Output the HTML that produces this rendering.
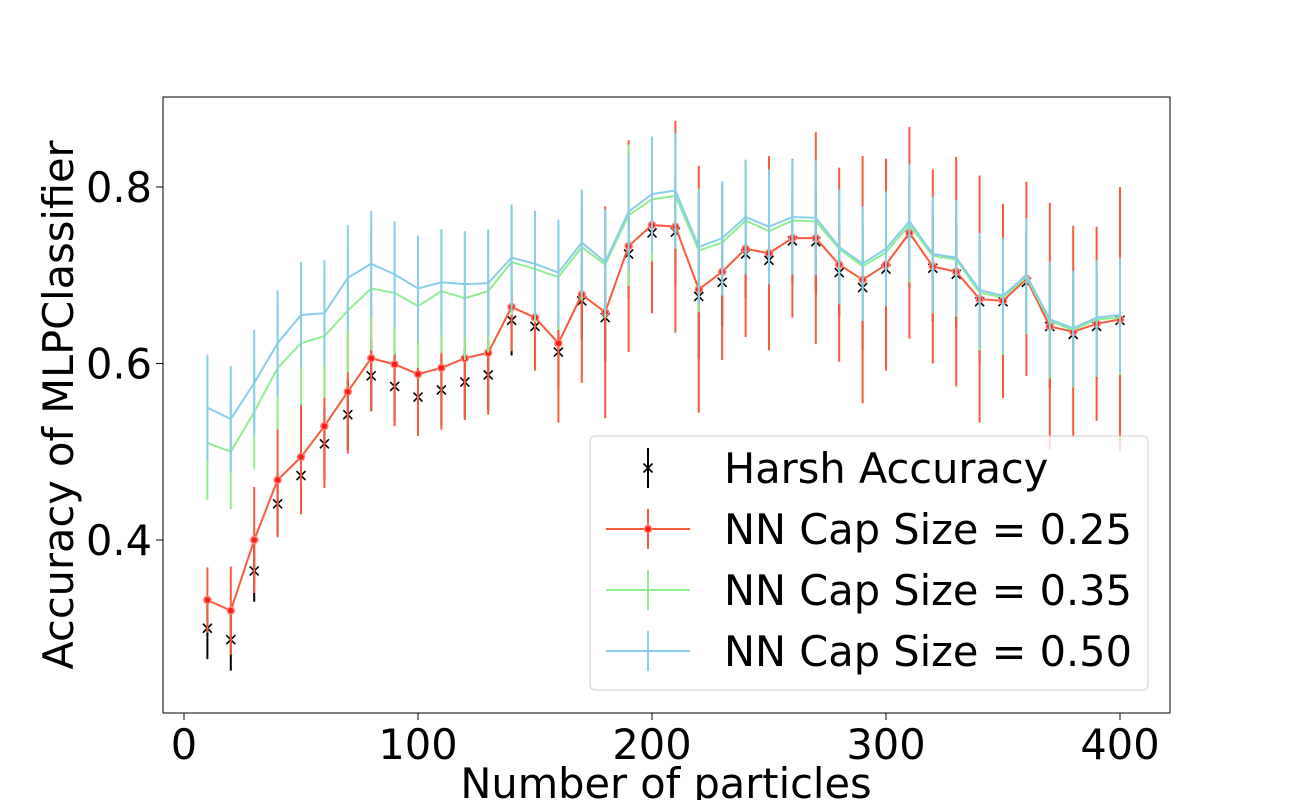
<!DOCTYPE html>
<html><head><meta charset="utf-8"><style>
body{margin:0;background:#fff;}
svg text{font-family:"DejaVu Sans","Liberation Sans",sans-serif;fill:#000;}
</style></head><body>
<svg id="c" width="1300" height="800"></svg>
<script>
const xs=[10,20,30,40,50,60,70,80,90,100,110,120,130,140,150,160,170,180,190,200,210,220,230,240,250,260,270,280,290,300,310,320,330,340,350,360,370,380,390,400];
const harsh=[0.300,0.287,0.365,0.441,0.473,0.509,0.542,0.586,0.574,0.562,0.570,0.579,0.587,0.649,0.642,0.613,0.671,0.652,0.724,0.748,0.749,0.676,0.692,0.724,0.717,0.739,0.738,0.703,0.686,0.707,0.746,0.708,0.701,0.670,0.670,0.692,0.642,0.633,0.642,0.649];
const harshErr=[0.035,0.035,0.035,0.035,0.04,0.04,0.04,0.04,0.04,0.04,0.04,0.04,0.04,0.04,0.04,0.04,0.045,0.05,0.05,0.05,0.06,0.07,0.05,0.05,0.05,0.05,0.06,0.05,0.07,0.06,0.06,0.06,0.06,0.07,0.06,0.06,0.07,0.06,0.06,0.07];
const cap25=[0.332,0.320,0.400,0.468,0.494,0.529,0.568,0.606,0.599,0.588,0.595,0.606,0.612,0.664,0.652,0.623,0.678,0.658,0.733,0.757,0.755,0.684,0.704,0.730,0.725,0.742,0.742,0.712,0.695,0.712,0.748,0.710,0.704,0.673,0.671,0.696,0.642,0.636,0.645,0.650];
const err25=[0.037,0.05,0.06,0.065,0.065,0.07,0.07,0.06,0.07,0.07,0.07,0.07,0.07,0.05,0.06,0.09,0.1,0.12,0.12,0.1,0.12,0.14,0.1,0.1,0.11,0.09,0.12,0.11,0.14,0.12,0.12,0.11,0.13,0.14,0.11,0.11,0.14,0.12,0.11,0.15];
const cap35=[0.51,0.50,0.545,0.595,0.623,0.631,0.66,0.685,0.68,0.665,0.682,0.674,0.682,0.715,0.707,0.698,0.732,0.712,0.768,0.786,0.79,0.728,0.737,0.762,0.75,0.762,0.761,0.73,0.71,0.726,0.757,0.722,0.718,0.68,0.675,0.698,0.648,0.638,0.65,0.652];
const err35=[0.065,0.065,0.065,0.07,0.07,0.07,0.07,0.07,0.07,0.07,0.07,0.07,0.07,0.06,0.06,0.06,0.06,0.06,0.08,0.07,0.06,0.07,0.06,0.06,0.06,0.06,0.06,0.06,0.06,0.06,0.065,0.065,0.065,0.065,0.065,0.065,0.065,0.065,0.065,0.065];
const cap50=[0.55,0.537,0.578,0.623,0.655,0.657,0.697,0.713,0.701,0.685,0.692,0.69,0.691,0.72,0.713,0.703,0.737,0.715,0.772,0.792,0.796,0.732,0.742,0.766,0.755,0.766,0.765,0.732,0.713,0.73,0.761,0.724,0.72,0.683,0.677,0.7,0.65,0.64,0.652,0.655];
const err50=[0.06,0.06,0.06,0.06,0.06,0.06,0.06,0.06,0.06,0.06,0.06,0.06,0.06,0.06,0.06,0.06,0.06,0.06,0.065,0.065,0.065,0.065,0.065,0.065,0.065,0.065,0.065,0.065,0.065,0.065,0.065,0.065,0.065,0.065,0.065,0.065,0.065,0.065,0.065,0.065];
const xTicks=[0,100,200,300,400];
const yTicks=[0.4,0.6,0.8];

const NS="http://www.w3.org/2000/svg";
const svg=document.getElementById('c');
const L=163,R=1170,T=97,B=713;
const X=v=>184+(v-0)*2.34;
const Y=v=>187-(v-0.8)*882.5;
function el(t,a,p){const e=document.createElementNS(NS,t);for(const k in a)e.setAttribute(k,a[k]);(p||svg).appendChild(e);return e;}

xTicks.forEach(t=>{
  const l=el('line',{x1:X(t),x2:X(t),y1:B,y2:B+7,stroke:'#000','stroke-width':1});
  
  
  const tx=el('text',{x:X(t),y:B+46,'font-size':41.5,'text-anchor':'middle'});tx.textContent=t;
  
  
});
yTicks.forEach(t=>{
  const l=el('line',{x1:L-7,x2:L,y1:Y(t),y2:Y(t),stroke:'#000','stroke-width':1});
  
  
  const tx=el('text',{x:L-11,y:Y(t)+15,'font-size':41.5,'text-anchor':'end'});tx.textContent=t.toFixed(1);
  
  
});

function series(vals,errs,color,name,marker){
  const g=el('g',{});
  
  
  xs.forEach((x,i)=>{
    const b=el('line',{x1:X(x),x2:X(x),y1:Y(vals[i]-errs[i]),y2:Y(vals[i]+errs[i]),stroke:color,'stroke-width':2},g);
    
    
  });
  if(marker==='x'){
    xs.forEach((x,i)=>{
      const cx=X(x),cy=Y(vals[i]);
      const m=el('path',{d:`M${cx-4.5},${cy-4.5}L${cx+4.5},${cy+4.5}M${cx-4.5},${cy+4.5}L${cx+4.5},${cy-4.5}`,stroke:'#000','stroke-width':1.6,fill:'none'},g);
      
      
    });
  } else {
    const p=el('polyline',{points:xs.map((x,i)=>X(x)+','+Y(vals[i])).join(' '),fill:'none',stroke:color,'stroke-width':2},g);
    
    
    if(marker==='dot'){
      xs.forEach((x,i)=>{
        const c=el('circle',{cx:X(x),cy:Y(vals[i]),r:3.5,fill:'#ff1a1a',stroke:'#ff8070','stroke-width':1.5},g);
        
        
      });
    }
  }
}
series(harsh,harshErr,'#000','harsh-accuracy','x');
series(cap25,err25,'#fa5a3c','cap-025','dot');
series(cap35,err35,'#90ee90','cap-035','line');
series(cap50,err50,'#87ceeb','cap-050','line');

const fr=el('rect',{x:L,y:T,width:R-L,height:B-T,fill:'none',stroke:'#000','stroke-width':1});



const xl=el('text',{x:666,y:798,'font-size':41.5,'text-anchor':'middle'});xl.textContent='Number of particles';


const yl=el('text',{x:0,y:0,'font-size':41.5,'text-anchor':'middle',transform:'translate(73,405) rotate(-90)'});yl.textContent='Accuracy of MLPClassifier';



const lg=el('g',{});


el('rect',{x:590,y:436,width:558,height:254,rx:5,fill:'#fff','fill-opacity':0.8,stroke:'#ccc','stroke-width':1},lg);
const entries=[['Harsh Accuracy','#000','x'],['NN Cap Size = 0.25','#fa5a3c','dot'],['NN Cap Size = 0.35','#90ee90','line'],['NN Cap Size = 0.50','#87ceeb','line']];
entries.forEach((e,i)=>{
  const cy=468+i*61,g=el('g',{},lg);
  
  
  el('line',{x1:648,x2:648,y1:cy-20,y2:cy+20,stroke:e[1],'stroke-width':2},g);
  if(e[2]==='x'){el('path',{d:`M${643.5},${cy-4.5}L${652.5},${cy+4.5}M${643.5},${cy+4.5}L${652.5},${cy-4.5}`,stroke:'#000','stroke-width':1.6},g);}
  else{el('line',{x1:606,x2:690,y1:cy,y2:cy,stroke:e[1],'stroke-width':2},g);
    if(e[2]==='dot')el('circle',{cx:648,cy:cy,r:3.5,fill:'#ff1a1a',stroke:'#ff8070','stroke-width':1.5},g);}
  const t=el('text',{x:724,y:cy+15,'font-size':41.5},g);t.textContent=e[0];
});
</script>
</body></html>
